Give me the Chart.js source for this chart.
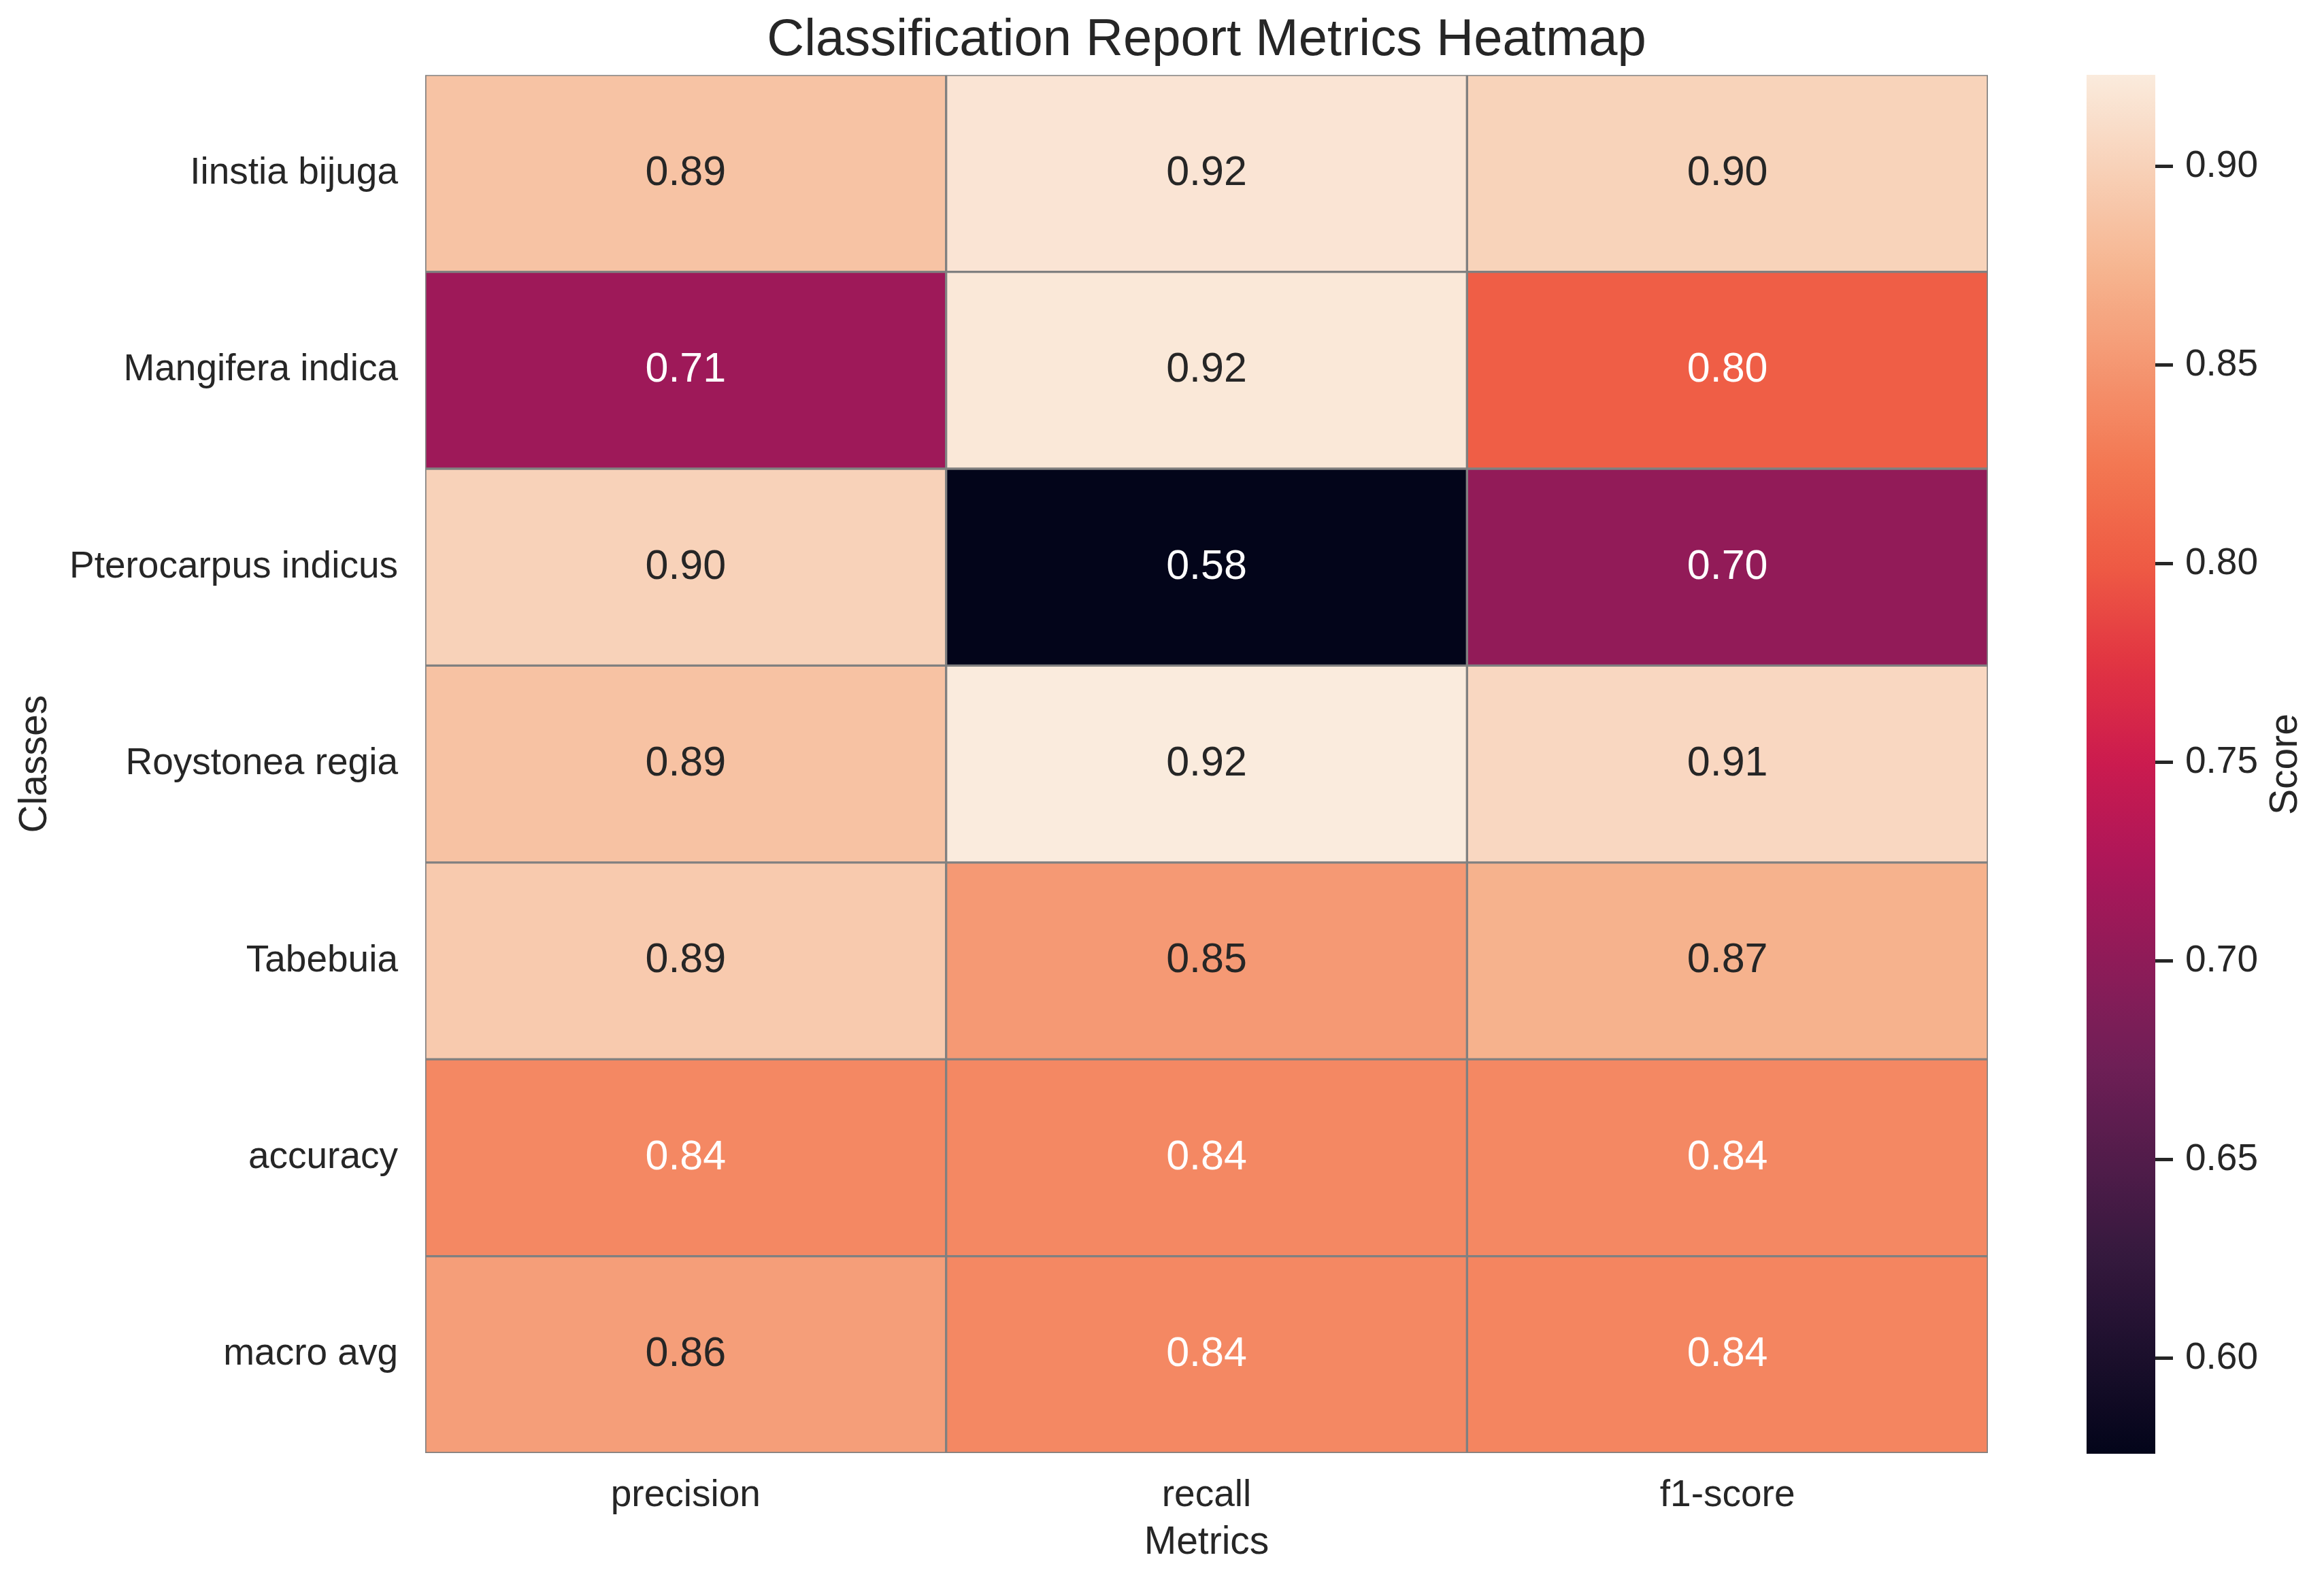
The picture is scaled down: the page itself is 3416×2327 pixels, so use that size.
<!DOCTYPE html>
<html>
<head>
<meta charset="utf-8">
<script src="https://cdn.jsdelivr.net/npm/chart.js@4.4.1/dist/chart.umd.min.js"></script>
<style>
  body { margin: 0; background: #ffffff; }
  #main { position: absolute; left: 0; top: 0; width: 2960px; height: 2327px; }
  #cbar { position: absolute; left: 3067px; top: 0; width: 349px; height: 2327px; }
</style>
</head>
<body>
<div id="main"><canvas id="heatmap"></canvas></div>
<div id="cbar"><canvas id="colorbar"></canvas></div>
<script>
// values
const classes = ['Iinstia bijuga', 'Mangifera indica', 'Pterocarpus indicus', 'Roystonea regia', 'Tabebuia', 'accuracy', 'macro avg'];
const metrics = ['precision', 'recall', 'f1-score'];
const precision = [0.887, 0.713, 0.900, 0.886, 0.893, 0.838, 0.856];
const recall = [0.917, 0.920, 0.576, 0.923, 0.852, 0.838, 0.838];
const f1Score = [0.901, 0.803, 0.703, 0.905, 0.872, 0.838, 0.836];
const cbarTicks = [0.60, 0.65, 0.70, 0.75, 0.80, 0.85, 0.90];

const columns = [precision, recall, f1Score];
const allValues = precision.concat(recall, f1Score);
const vmin = Math.min(...allValues);
const vmax = Math.max(...allValues);

const FONT = "'Liberation Sans', Arial, sans-serif";
const TEXT = '#262626';

// rocket colormap (seaborn)
const rocket = [
    [0.000, '#03051a'], [0.143, '#35193e'], [0.286, '#701f57'], [0.429, '#ad1759'],
    [0.500, '#cb1b4f'], [0.571, '#e13342'], [0.643, '#ee5a44'], [0.714, '#f37651'],
    [0.857, '#f6b48f'], [1.000, '#faebdd']
];
function hexToRgb(h) {
    return [parseInt(h.slice(1, 3), 16), parseInt(h.slice(3, 5), 16), parseInt(h.slice(5, 7), 16)];
}
function rocketRgb(t) {
    t = Math.max(0, Math.min(1, t));
    for (let i = 1; i < rocket.length; i++) {
        if (t <= rocket[i][0]) {
            const [t0, c0] = rocket[i - 1];
            const [t1, c1] = rocket[i];
            const f = (t - t0) / (t1 - t0);
            const a = hexToRgb(c0), b = hexToRgb(c1);
            return a.map((v, k) => Math.round(v + (b[k] - v) * f));
        }
    }
    return hexToRgb(rocket[rocket.length - 1][1]);
}
function colorFor(v) {
    const c = rocketRgb((v - vmin) / (vmax - vmin));
    return `rgb(${c[0]},${c[1]},${c[2]})`;
}
function textColorFor(v) {
    const c = rocketRgb((v - vmin) / (vmax - vmin)).map(x => {
        x = x / 255;
        return x <= 0.03928 ? x / 12.92 : Math.pow((x + 0.055) / 1.055, 2.4);
    });
    const lum = 0.2126 * c[0] + 0.7152 * c[1] + 0.0722 * c[2];
    return lum > 0.408 ? TEXT : '#ffffff';
}

// one dataset per class row, floating bars span the row band
const datasets = classes.map((name, i) => ({
    label: name,
    data: metrics.map(() => [i - 0.5, i + 0.5]),
    values: columns.map(col => col[i]),
    backgroundColor: columns.map(col => colorFor(col[i])),
    borderColor: '#808080',
    borderWidth: 2,
    borderSkipped: false,
    grouped: false,
    barPercentage: 1,
    categoryPercentage: 1
}));

const annotate = {
    id: 'annotate',
    afterDatasetsDraw(chart) {
        const ctx = chart.ctx;
        ctx.save();
        ctx.font = `61px ${FONT}`;
        ctx.textAlign = 'center';
        ctx.textBaseline = 'middle';
        chart.data.datasets.forEach((ds, i) => {
            chart.getDatasetMeta(i).data.forEach((bar, j) => {
                const p = bar.getProps(['x', 'y', 'base'], true);
                const v = ds.values[j];
                ctx.fillStyle = textColorFor(v);
                ctx.fillText(v.toFixed(2), p.x, (p.y + p.base) / 2);
            });
        });
        ctx.restore();
    }
};

new Chart(document.getElementById('heatmap'), {
    type: 'bar',
    data: { labels: metrics, datasets: datasets },
    options: {
        responsive: true,
        maintainAspectRatio: false,
        devicePixelRatio: 1,
        animation: false,
        layout: { padding: { left: 0, right: 38, top: 0, bottom: 0 } },
        plugins: {
            legend: { display: false },
            tooltip: { enabled: false },
            title: {
                display: true,
                text: 'Classification Report Metrics Heatmap',
                fullSize: false,
                color: TEXT,
                font: { family: FONT, size: 76, weight: 'normal' },
                padding: { top: 14, bottom: 5 }
            }
        },
        scales: {
            x: {
                type: 'category',
                grid: { display: false },
                border: { display: false },
                ticks: { color: TEXT, font: { family: FONT, size: 55 }, padding: 22 },
                title: {
                    display: true, text: 'Metrics', color: TEXT,
                    font: { family: FONT, size: 57 }, padding: { top: 0, bottom: 25 }
                },
                afterFit: s => { s.height = 191; }
            },
            y: {
                type: 'linear',
                min: -0.5,
                max: classes.length - 0.5,
                reverse: true,
                grid: { display: false },
                border: { display: false },
                afterBuildTicks: s => { s.ticks = classes.map((c, i) => ({ value: i })); },
                ticks: {
                    color: TEXT, font: { family: FONT, size: 55 }, padding: 32,
                    callback: v => classes[v]
                },
                title: {
                    display: true, text: 'Classes', color: TEXT,
                    font: { family: FONT, size: 57 }, padding: { top: 18, bottom: 0 }
                },
                afterFit: s => { s.width = 625; }
            }
        }
    },
    plugins: [annotate]
});

// colorbar
const scoreLabel = {
    id: 'scoreLabel',
    afterDraw(chart) {
        const { ctx, chartArea } = chart;
        ctx.save();
        ctx.translate(chartArea.right + 192, (chartArea.top + chartArea.bottom) / 2);
        ctx.rotate(-Math.PI / 2);
        ctx.font = `57px ${FONT}`;
        ctx.fillStyle = TEXT;
        ctx.textAlign = 'center';
        ctx.textBaseline = 'middle';
        ctx.fillText('Score', 0, 0);
        ctx.restore();
    }
};

new Chart(document.getElementById('colorbar'), {
    type: 'bar',
    data: {
        labels: [''],
        datasets: [{
            data: [[vmin, vmax]],
            backgroundColor: c => {
                const { ctx, chartArea } = c.chart;
                if (!chartArea) return '#000';
                const g = ctx.createLinearGradient(0, chartArea.bottom, 0, chartArea.top);
                for (let k = 0; k <= 64; k++) {
                    const t = k / 64;
                    const rgb = rocketRgb(t);
                    g.addColorStop(t, `rgb(${rgb[0]},${rgb[1]},${rgb[2]})`);
                }
                return g;
            },
            borderWidth: 0,
            barPercentage: 1,
            categoryPercentage: 1
        }]
    },
    options: {
        responsive: true,
        maintainAspectRatio: false,
        devicePixelRatio: 1,
        animation: false,
        layout: { padding: { left: 0, right: 0, top: 110, bottom: 190 } },
        plugins: { legend: { display: false }, tooltip: { enabled: false } },
        scales: {
            x: { display: false },
            y: {
                type: 'linear',
                position: 'right',
                min: vmin,
                max: vmax,
                border: { display: false },
                grid: {
                    display: true, drawOnChartArea: false, drawTicks: true,
                    tickLength: 26, tickWidth: 5, tickColor: TEXT
                },
                afterBuildTicks: s => { s.ticks = cbarTicks.map(v => ({ value: v })); },
                ticks: {
                    color: TEXT, font: { family: FONT, size: 55 }, padding: 18,
                    callback: v => Number(v).toFixed(2)
                },
                afterFit: s => { s.width = 248; }
            }
        }
    },
    plugins: [scoreLabel]
});
</script>
</body>
</html>
